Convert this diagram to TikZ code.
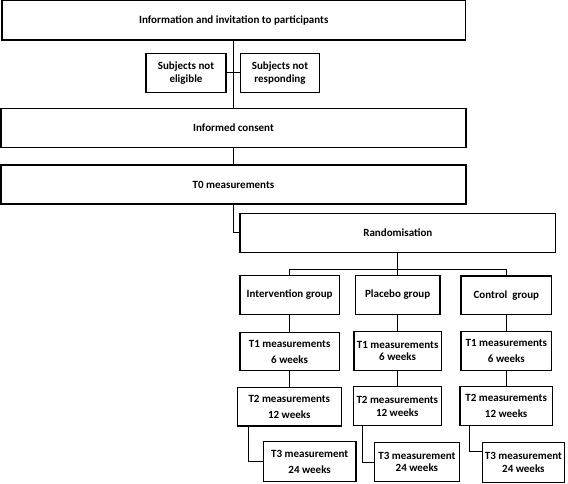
\documentclass[tikz,border=0pt]{standalone}
\usepackage{fontspec}
\setmainfont{Carlito}
\usetikzlibrary{calc}
\begin{document}
\begin{tikzpicture}[x=1pt,y=-1pt,
  boxstyle/.style={draw=black, line width=1.1pt, inner sep=0pt, align=center,
    font=\fontsize{11}{12.5}\selectfont\bfseries},
  link/.style={draw=black, line width=0.9pt}]
\useasboundingbox (0,0) rectangle (568,484);
\newcommand\mybox[6]{%
  \node[boxstyle, minimum width={#4-#2}, minimum height={#5-#3}] (#1) at ({(#2+#4)/2},{(#3+#5)/2}) {#6};}
\mybox{top}{2}{0.8}{465.5}{40}{Information and invitation to participants}
\mybox{nelig}{146}{53.5}{226}{92.3}{Subjects not\\eligible}
\mybox{nresp}{240.7}{53.5}{319.3}{92.3}{Subjects not\\responding}
\mybox{consent}{1}{108.5}{466}{147.7}{Informed consent}
\mybox{tzero}{1}{165}{466}{204}{T0 measurements}
\mybox{rand}{240}{213.3}{555.7}{252.7}{Randomisation}
\mybox{intv}{240}{275.7}{339.3}{314.3}{Intervention group}
\mybox{plac}{355.3}{275.5}{440}{314.3}{Placebo group}
\mybox{ctrl}{461}{276}{551.7}{314.3}{Control\ \ group}
\mybox{ione}{240}{332.7}{339.3}{370.5}{T1 measurements\\[3.5pt]6 weeks}
\mybox{pone}{354}{331.7}{441.3}{370.7}{T1 measurements\\6 weeks}
\mybox{cone}{461}{331.7}{551.7}{370.3}{T1 measurements\\[3.5pt]6 weeks}
\mybox{itwo}{237.3}{387.3}{341.3}{426}{T2 measurements\\[3.5pt]12 weeks}
\mybox{ptwo}{353.3}{386.7}{441.3}{425.7}{T2 measurements\\12 weeks}
\mybox{ctwo}{460}{386.7}{552.3}{425.7}{T2 measurements\\[3.5pt]12 weeks}
\mybox{ithree}{263.3}{441.7}{356}{481.7}{T3 measurement\\[3.5pt]24 weeks}
\mybox{pthree}{374.5}{442.5}{459.3}{481.7}{T3 measurement\\24 weeks}
\mybox{cthree}{482.3}{442.3}{564.5}{482.3}{T3 measurement\\24 weeks}
% connectors
\draw[link] (top.south) -- (top.south |- consent.north);
\draw[link] (nelig.east) -- (nresp.west);
\draw[link] (consent.south) -- (consent.south |- tzero.north);
\coordinate (tzbreak) at ($(tzero.south)+(0,28.3)$);
\draw[link] (tzero.south) -- (tzbreak) -- (tzbreak -| rand.west);
\coordinate (bus) at ($(rand.south)+(0,15.8)$);
\draw[link] (rand.south) -- (bus);
\draw[link] (bus -| intv.north) -- (bus -| ctrl.north);
\draw[link] (bus -| intv.north) -- (intv.north);
\draw[link] (bus -| plac.north) -- (plac.north);
\draw[link] (bus -| ctrl.north) -- (ctrl.north);
\draw[link] (intv.south) -- (intv.south |- ione.north);
\draw[link] (plac.south) -- (plac.south |- pone.north);
\draw[link] (ctrl.south) -- (ctrl.south |- cone.north);
\draw[link] (ione.south) -- (ione.south |- itwo.north);
\draw[link] (pone.south) -- (pone.south |- ptwo.north);
\draw[link] (cone.south) -- (cone.south |- ctwo.north);
\coordinate (ielb) at ($(itwo.south west)+(12,0)$);
\draw[link] (ielb) |- (ithree.west);
\coordinate (pelb) at ($(ptwo.south west)+(9.4,0)$);
\draw[link] (pelb) |- (pthree.west);
\coordinate (celb) at ($(ctwo.south west)+(10,0)$);
\coordinate (cjoin) at ($(cthree.north west)+(0,9.3)$);
\draw[link] (celb) |- (cjoin);
\end{tikzpicture}
\end{document}
